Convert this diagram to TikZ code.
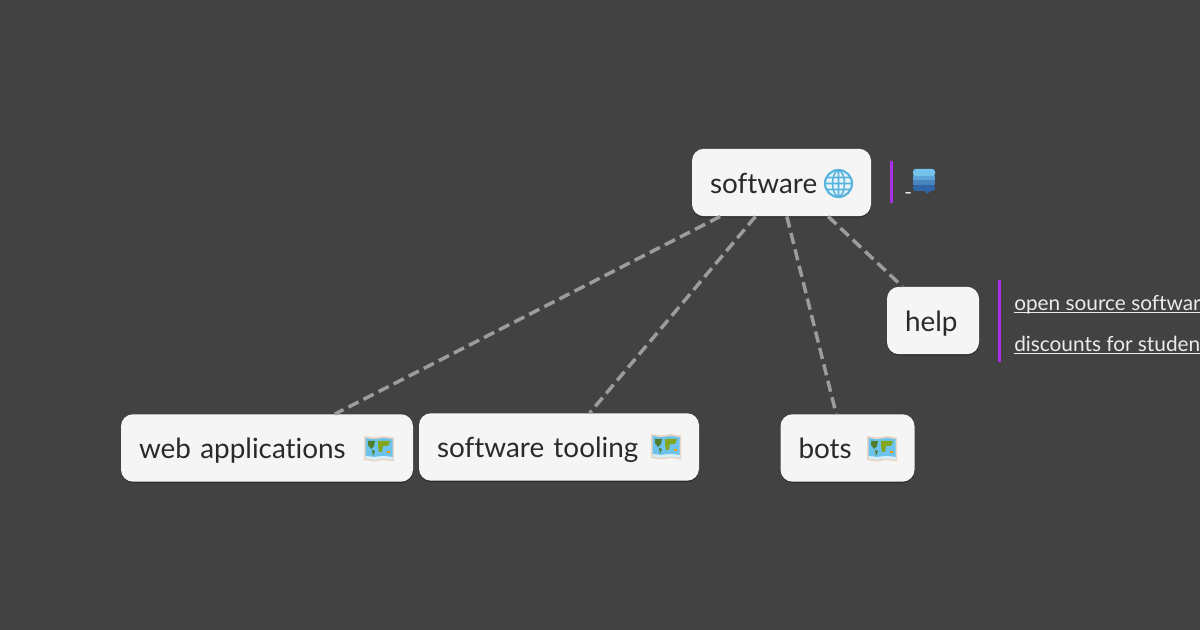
\documentclass[tikz,border=0pt]{standalone}
\usepackage{fontspec}
\setmainfont{Lato}[Ligatures=CommonOff]
\usetikzlibrary{shadows}
\newlength{\undertextwd}
\newcommand{\undertext}[1]{\settowidth{\undertextwd}{#1}\rlap{\rule[-1.6pt]{\undertextwd}{0.8pt}}#1}
\definecolor{bgdark}{HTML}{424242}
\definecolor{boxfill}{HTML}{F5F5F5}
\definecolor{linkgrey}{HTML}{9C9C9C}
\definecolor{barpurple}{HTML}{A92FE6}
\definecolor{inkdark}{HTML}{2A2A2A}
\definecolor{seablue}{HTML}{6CC4EE}
\definecolor{landgreen}{HTML}{4F7F2E}
\definecolor{paperrim}{HTML}{E8D5C4}
\definecolor{globeblue}{HTML}{58B4DC}
\definecolor{stacktop}{HTML}{72C2EC}
\definecolor{stackmid}{HTML}{5FA4D8}
\definecolor{stacklow}{HTML}{4A86BE}
\definecolor{stackend}{HTML}{2F66A8}
\tikzset{
    topic/.style={fill=boxfill, rounded corners=9pt, minimum height=50.6pt, inner xsep=13.5pt, inner ysep=0pt,
        text=inkdark, align=left, text height=20pt, text depth=3.6pt, font=\fontsize{20.9}{25}\selectfont,
        drop shadow={shadow xshift=0pt, shadow yshift=-1pt, opacity=0.3, fill=black}},
    link/.style={draw=linkgrey, line width=2.6pt, dash pattern=on 8.5pt off 4.2pt},
    bar/.style={fill=barpurple, inner sep=0pt, minimum width=2.6pt},
    note/.style={text=white!92!black, inner sep=0pt, anchor=base west, font=\fontsize{15.6}{19}\selectfont},
    mapicon/.pic={
        \fill[paperrim] (-15,-13) -- (-5,-11.5) -- (5,-13) -- (15,-11.5) -- (15,12.5) -- (5,11) -- (-5,12.5) -- (-15,11) -- cycle;
        \fill[seablue] (-13.5,-11) -- (-5,-9.8) -- (5,-11) -- (13.5,-9.8) -- (13.5,8) -- (5,7) -- (-5,8) -- (-13.5,7) -- cycle;
        \fill[white!70!seablue] (-13.5,7) -- (-5,8) -- (5,7) -- (13.5,8) -- (13.5,10.8) -- (5,9.5) -- (-5,10.8) -- (-13.5,9.5) -- cycle;
        \fill[landgreen] (-11,-8) -- (-4,-8) -- (-5,-3) -- (-8,0) -- (-11,-4) -- cycle;
        \fill[landgreen] (-7,1) -- (-4,2) -- (-6,7) -- cycle;
        \fill[landgreen!70!yellow] (-1,-8) -- (11,-8) -- (9,-3) -- (4,-3) -- (3,3) -- (0,3) -- (-1,-3) -- cycle;
        \fill[orange!80!yellow] (8,2) rectangle (10.5,4.5);
    },
    globeicon/.pic={
        \draw[globeblue, line width=1.6pt, fill=white!85!globeblue] (0,0) circle (13.5);
        \draw[globeblue, line width=1.2pt] (0,0) ellipse (6 and 13) (0,-13) -- (0,13) (-13,0) -- (13,0)
            (-11.5,-6) -- (11.5,-6) (-11.5,6) -- (11.5,6);
    },
    stackicon/.pic={
        \fill[stacktop, rounded corners=2pt] (-11,-12) rectangle (11,-4.5);
        \fill[stackmid] (-11,-4.5) rectangle (11,-1);
        \fill[stacklow] (-11,-1) rectangle (11,4);
        \fill[stackend, rounded corners=2pt] (-11,4) rectangle (11,10);
        \fill[stackend] (0,9) -- (8,9) -- (3,13) -- cycle;
    }
}
\begin{document}
\begin{tikzpicture}[x=0.75pt,y=-0.75pt]
    \clip (0,0) rectangle (1200,630);
    \fill[bgdark] (0,0) rectangle (1200,630);

    \node[topic, minimum width=134.25pt, text width=107.25pt] (software) at (781.5,182.5) { software };
    \node[topic, minimum width=219pt, text width=192pt] (web) at (267,448) { web applications };
    \node[topic, minimum width=210pt, text width=183pt] (tooling) at (559,447) { software tooling };
    \node[topic, minimum width=100.5pt, text width=73.5pt] (bots) at (847.5,448) { bots };
    \node[topic, minimum width=69pt, text width=42pt] (help) at (933,320.5) { help };

    \draw[link] ([xshift=-46pt]software.south) -- ([xshift=51pt]web.north);
    \draw[link] ([xshift=-19.5pt]software.south) -- ([xshift=23pt]tooling.north);
    \draw[link] ([xshift=4pt]software.south) -- ([xshift=-8.5pt]bots.north);
    \draw[link] ([xshift=35pt]software.south) -- ([xshift=-23pt]help.north);

    \node[bar, minimum height=31.5pt] (barsoftware) at (891.5,182) {};
    \node[bar, minimum height=61.5pt] (barhelp) at (999.5,321) {};

    \node[note] (dash) at (904,200) { - };
    \node[note] (opensource) at (1014,311) { \undertext{open source software} };
    \node[note] (discounts) at (1014,352) { \undertext{discounts for students} };

    \pic at (838.5,183.5) {globeicon};
    \pic at (924,181) {stackicon};
    \pic at (379,449) {mapicon};
    \pic at (666,447) {mapicon};
    \pic at (882,449) {mapicon};
\end{tikzpicture}
\end{document}
